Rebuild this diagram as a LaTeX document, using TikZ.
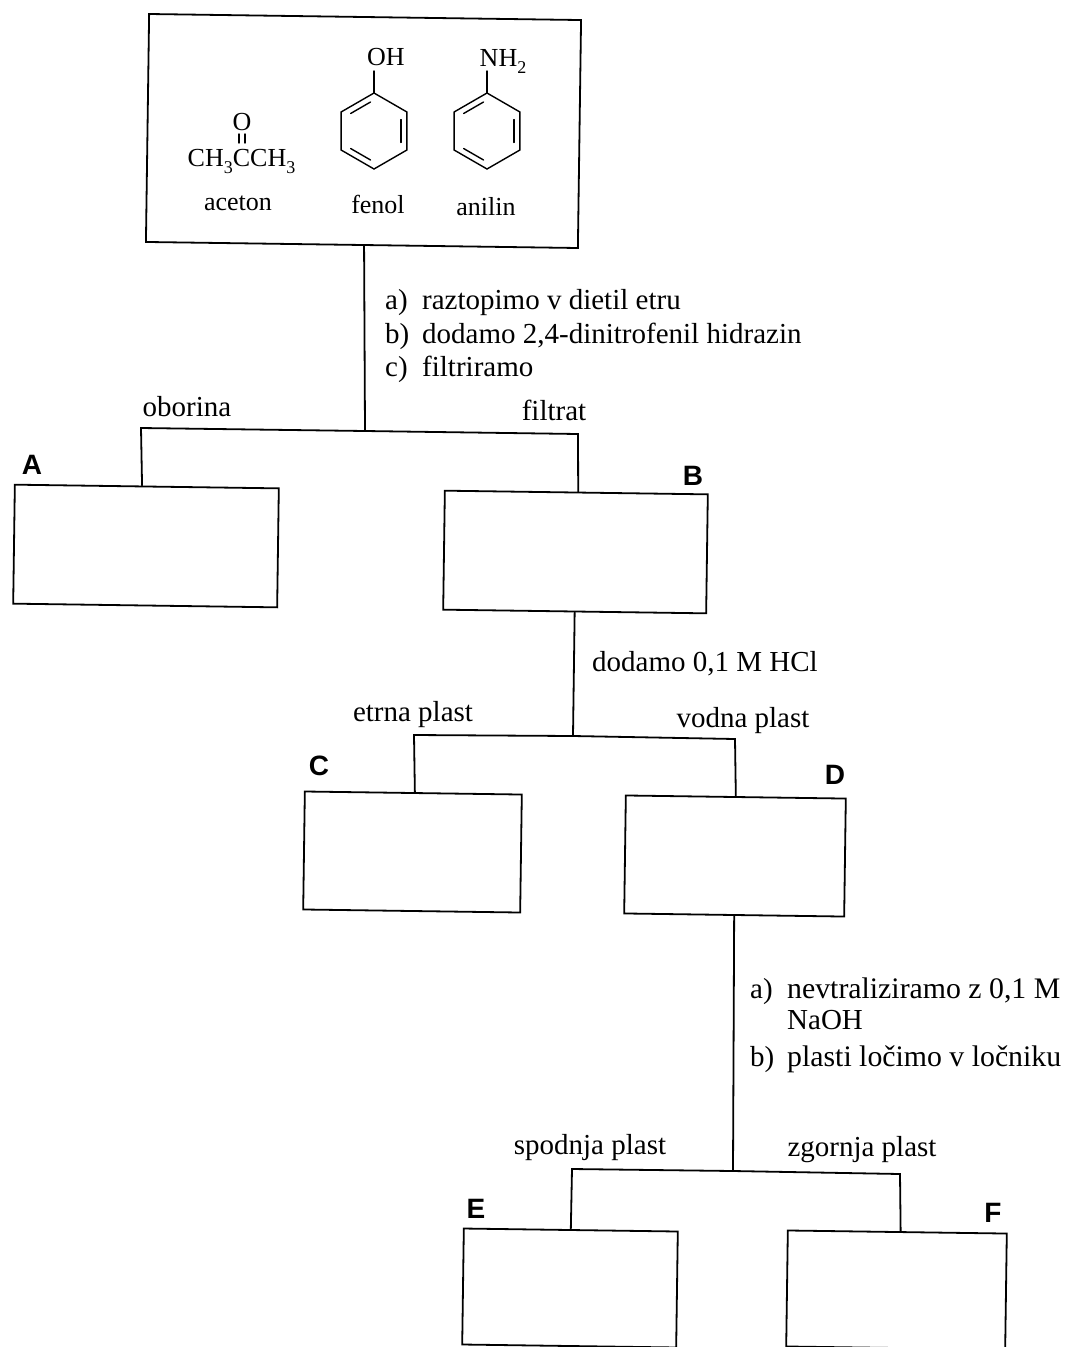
\documentclass[tikz,border=0pt]{standalone}
\usepackage{fontspec}
\setmainfont{Liberation Serif}
\newfontfamily\hdfont{Liberation Sans}
\usetikzlibrary{calc}
\newcommand{\subthree}[1]{\raisebox{-0.28em}{\fontsize{18}{20}\selectfont #1}}
\tikzset{
  box/.style={draw,line width=1.8pt,rectangle,inner sep=0pt,rotate=-0.8},
  lab/.style={anchor=base west,inner sep=0pt,font=\fontsize{29}{32}\selectfont},
  labw/.style={anchor=base west,inner sep=0pt,font=\fontsize{29.8}{32}\selectfont},
  cen/.style={anchor=base,inner sep=0pt,font=\fontsize{29}{32}\selectfont},
  mol/.style={anchor=base,inner sep=0pt,font=\fontsize{26}{30}\selectfont},
  hd/.style={anchor=base,inner sep=0pt,font=\hdfont\bfseries\fontsize{28}{30}\selectfont},
  wire/.style={line width=1.8pt,line cap=round},
  thin bond/.style={line width=1.4pt,line cap=round,line join=miter},
  pics/benz/.style={code={
    \draw[thin bond] (90:38) -- (30:38) -- (-30:38) -- (-90:38) -- (-150:38) -- (150:38) -- cycle;
    \draw[thin bond] ($(-90:31)!0.13!(-150:31)$) -- ($(-90:31)!0.87!(-150:31)$);
    \draw[thin bond] ($(30:31)!0.13!(-30:31)$) -- ($(30:31)!0.87!(-30:31)$);
    \draw[thin bond] ($(90:31)!0.13!(150:31)$) -- ($(90:31)!0.87!(150:31)$);
  }}
}
\begin{document}
\begin{tikzpicture}[x=1pt,y=-1pt]
\useasboundingbox (0,0) rectangle (1065,1347);
% boxes
\node[box,minimum width=432pt,minimum height=228pt] (top) at (363.5,131) {};
\node[box,minimum width=264pt,minimum height=119pt] (A) at (146,546) {};
\node[box,minimum width=263pt,minimum height=119pt] (B) at (575.5,552) {};
\node[box,minimum width=217pt,minimum height=118pt] (C) at (412.5,852) {};
\node[box,minimum width=220pt,minimum height=118pt] (D) at (735,856) {};
\node[box,minimum width=214pt,minimum height=116pt] (E) at (570,1288) {};
\node[box,minimum width=219pt,minimum height=116pt] (F) at (896.5,1290) {};
% junctions
\coordinate (j1) at (365,431);
\coordinate (j1l) at (141,428);
\coordinate (j1r) at (578,434);
\coordinate (j2) at (573,736);
\coordinate (j2l) at (414,735);
\coordinate (j2r) at (735,739);
\coordinate (j3) at (733,1171);
\coordinate (j3l) at (572,1169);
\coordinate (j3r) at (900,1174);
% connectors
\draw[wire] ($(top.south west)!0.505!(top.south east)$) -- (j1);
\draw[wire] (j1) -- (j1l) -- ($(A.north west)!0.482!(A.north east)$);
\draw[wire] (j1) -- (j1r) -- ($(B.north west)!0.507!(B.north east)$);
\draw[wire] (B.south) -- (j2);
\draw[wire] (j2) -- (j2l) -- ($(C.north west)!0.507!(C.north east)$);
\draw[wire] (j2) -- (j2r) -- ($(D.north west)!0.5!(D.north east)$);
\draw[wire] (D.south) -- (j3);
\draw[wire] (j3) -- (j3l) -- ($(E.north west)!0.5!(E.north east)$);
\draw[wire] (j3) -- (j3r) -- ($(F.north west)!0.515!(F.north east)$);
% molecules
\pic at (374,131) {benz};
\pic at (487,131) {benz};
\node[mol] (oh) at (386,65) {OH};
\node[mol] (nh) at (503,66) {NH\subthree{2}};
\draw[thin bond] (374,93) -- (374,71);
\draw[thin bond] (487,93) -- (487,71);
\node[mol] (ox) at (242,130) {O};
\draw[thin bond] (239,134) -- (239,143);
\draw[thin bond] (245,134) -- (245,143);
\node[mol] (ace) at (241.5,166) {CH\subthree{3}CCH\subthree{3}};
\node[mol] (n1) at (238,210) {aceton};
\node[mol] (n2) at (378,213) {fenol};
\node[mol] (n3) at (486,215) {anilin};
% step labels
\node[lab] (s1a) at (385,309) {a)};
\node[lab] (s1b) at (385,343) {b)};
\node[lab] (s1c) at (385,376) {c)};
\node[lab] (t1a) at (422,309) {raztopimo v dietil etru};
\node[lab] (t1b) at (422,343) {dodamo 2,4-dinitrofenil hidrazin};
\node[lab] (t1c) at (422,376) {filtriramo};
\node[cen] (l1) at (187,416.5) {oborina};
\node[cen] (l2) at (554,420) {filtrat};
\node[lab] (l3) at (592,671) {dodamo 0,1 M HCl};
\node[cen] (l4) at (413,721.5) {etrna plast};
\node[cen] (l5) at (743,727) {vodna plast};
\node[lab] (s2a) at (750,998) {a)};
\node[lab] (s2b) at (750,1066) {b)};
\node[labw] (t2a) at (787,998) {nevtraliziramo z 0,1 M};
\node[lab] (t2a2) at (787,1029) {NaOH};
\node[labw] (t2b) at (787,1066) {plasti ločimo v ločniku};
\node[cen] (l6) at (590,1154) {spodnja plast};
\node[cen] (l7) at (862,1156) {zgornja plast};
% letters
\node[hd] (la) at (32,474) {A};
\node[hd] (lb) at (693,485) {B};
\node[hd] (lc) at (319,775) {C};
\node[hd] (ld) at (835,784) {D};
\node[hd] (le) at (476,1218) {E};
\node[hd] (lf) at (993,1222) {F};
\end{tikzpicture}
\end{document}
